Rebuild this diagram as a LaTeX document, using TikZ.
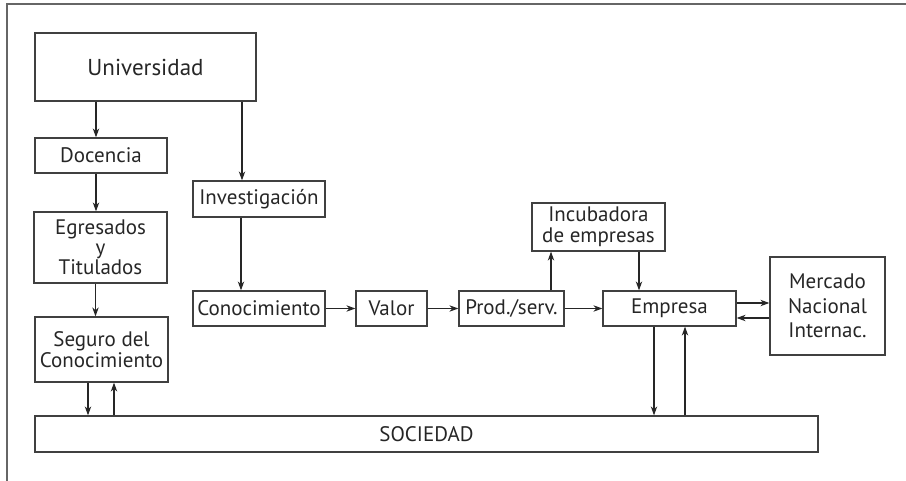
\documentclass[tikz,border=0pt]{standalone}
\usepackage{fontspec}
\setmainfont{PT Sans}
\usetikzlibrary{arrows.meta}
\begin{document}
\begin{tikzpicture}[x=0.5pt,y=-0.5pt,
    main/.style={draw=black!75,line width=0.6pt,inner sep=0pt,align=center,
        text=black!85,font=\fontsize{10.5}{10.5}\selectfont},
    flow/.style={-{Stealth[length=4.5pt,width=3.2pt]},line width=0.6pt,draw=black!85}]
    \useasboundingbox (0,0) rectangle (906,481);
    \draw[black!60,line width=1pt](906,4) -- (7,4) -- (7,481);
    \node[main,minimum width=110.5pt,minimum height=34pt](univ) at (145.5,67){\fontsize{11.5}{12}\selectfont Universidad};
    \node[main,minimum width=66pt,minimum height=17.5pt](doc) at (101,155.5){Docencia};
    \node[main,minimum width=66.5pt,minimum height=35.5pt,font=\fontsize{10.5}{10}\selectfont](egr) at (100.5,247.5){Egresados\\y\\Titulados};
    \node[main,minimum width=66.5pt,minimum height=32.5pt](seg) at (101.5,349.5){Seguro del\\Conocimiento};
    \node[main,minimum width=66pt,minimum height=18pt](inv) at (259,199){Investigación};
    \node[main,minimum width=66pt,minimum height=17.5pt](con) at (259,308.5){Conocimiento};
    \node[main,minimum width=35.5pt,minimum height=17.5pt](val) at (391.5,308.5){Valor};
    \node[main,minimum width=52.5pt,minimum height=17.5pt](prod) at (511.5,308.5){Prod./serv.};
    \node[main,minimum width=66.5pt,minimum height=24pt](inc) at (598.5,227){Incubadora\\de empresas};
    \node[main,minimum width=66.5pt,minimum height=17.5pt](emp) at (669.5,308.5){Empresa};
    \node[main,minimum width=57.5pt,minimum height=49pt,font=\fontsize{10.5}{12.2}\selectfont](mer) at (827.5,306){Mercado\\Nacional\\Internac.};
    \node[main,minimum width=391.5pt,minimum height=18pt](soc) at (426.5,434){SOCIEDAD};
    % left column
    \draw[flow]([xshift=-2.5pt]doc.north |- univ.south) -- ([xshift=-2.5pt]doc.north);
    \draw[flow]([xshift=-2.5pt]doc.south) -- ([xshift=-2.5pt]doc.south |- egr.north);
    \draw[flow]([xshift=-2.5pt]egr.south) -- ([xshift=-2.5pt]egr.south |- seg.north);
    \draw[flow]([xshift=-6.75pt]seg.south) -- ([xshift=-6.75pt]seg.south |- soc.north);
    \draw[flow]([xshift=6.25pt]seg.south |- soc.north) -- ([xshift=6.25pt]seg.south);
    % research line
    \draw[flow]([xshift=-8.5pt]inv.north |- univ.south) -- ([xshift=-8.5pt]inv.north);
    \draw[flow]([xshift=-9pt]inv.south) -- ([xshift=-9pt]con.north);
    \draw[flow](con) -- (val);
    \draw[flow](val) -- (prod);
    \draw[flow](prod) -- (emp);
    \draw[flow]([xshift=19.75pt]prod.north) coordinate(p1) -- (p1 |- inc.south);
    \draw[flow]([xshift=20.25pt]inc.south) coordinate(i1) -- (i1 |- emp.north);
    % market and society
    \draw[flow]([yshift=2.75pt]emp.east) coordinate(e1) -- (e1 -| mer.west);
    \draw[flow]([yshift=-4.75pt]emp.east -| mer.west) -- ([yshift=-4.75pt]emp.east);
    \draw[flow]([xshift=-7.75pt]emp.south) coordinate(e2) -- (e2 |- soc.north);
    \draw[flow]([xshift=7.75pt]emp.south |- soc.north) -- ([xshift=7.75pt]emp.south);
\end{tikzpicture}
\end{document}
